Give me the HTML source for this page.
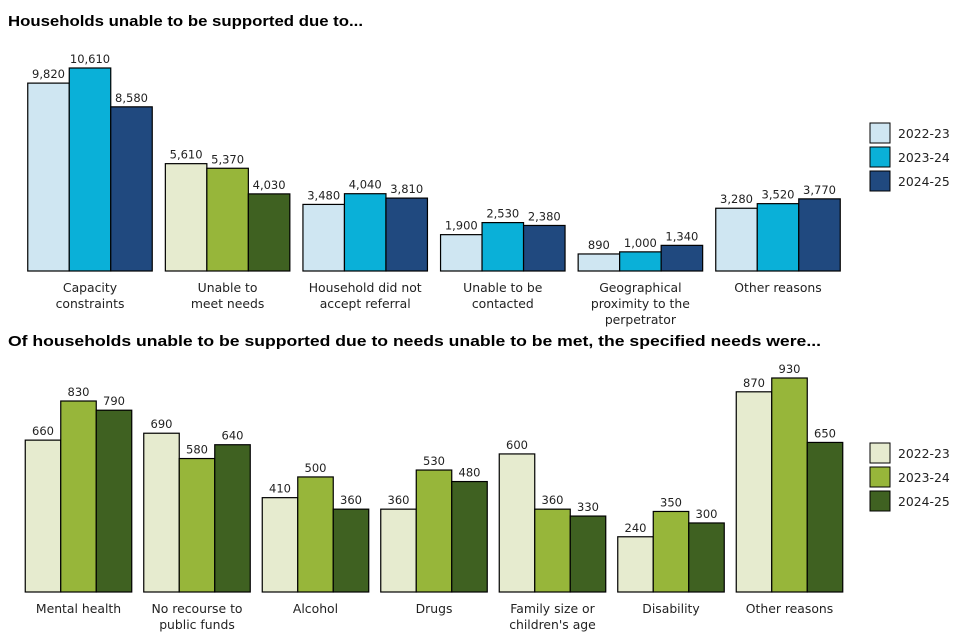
<!DOCTYPE html>
<html><head><meta charset="utf-8"><style>
body{margin:0;background:#fff;font-family:"DejaVu Sans",sans-serif}
svg text{font-family:"DejaVu Sans",sans-serif}
</style></head><body>
<svg id="c" width="960" height="640" xmlns="http://www.w3.org/2000/svg">
<text x="8" y="26" font-size="15" font-weight="bold" textLength="355" lengthAdjust="spacingAndGlyphs" style="font-family:'Liberation Sans',sans-serif">Households unable to be supported due to...</text>
<text x="8" y="346" font-size="15" font-weight="bold" textLength="813" lengthAdjust="spacingAndGlyphs" style="font-family:'Liberation Sans',sans-serif">Of households unable to be supported due to needs unable to be met, the specified needs were...</text>
</svg>
<script>
const years=["2022-23","2023-24","2024-25"];
const topCats=[["Capacity","constraints"],["Unable to","meet needs"],["Household did not","accept referral"],["Unable to be","contacted"],["Geographical","proximity to the","perpetrator"],["Other reasons"]];
const top2223=[9820,5610,3480,1900,890,3280];
const top2324=[10610,5370,4040,2530,1000,3520];
const top2425=[8580,4030,3810,2380,1340,3770];
const botCats=[["Mental health"],["No recourse to","public funds"],["Alcohol"],["Drugs"],["Family size or","children's age"],["Disability"],["Other reasons"]];
const bot2223=[660,690,410,360,600,240,870];
const bot2324=[830,580,500,530,360,350,930];
const bot2425=[790,640,360,480,330,300,650];

const svg=document.getElementById('c');
const NS="http://www.w3.org/2000/svg";
const blue=["#cfe6f2","#0ab0d8","#20497f"], green=["#e6ebcf","#97b63a","#3f6121"];
function mk(t,a){const e=document.createElementNS(NS,t);for(const k in a)e.setAttribute(k,a[k]);svg.appendChild(e);return e;}
function fmt(v){return v.toLocaleString('en-US');}
function chart(cats,series,o){
  const y=v=>o.base-v*o.scale;
  cats.forEach((c,i)=>{
    const cx=o.x0+i*o.step;
    const cols=o.colsFor(i);
    series.forEach((s,j)=>{
      const x=cx-1.5*o.bw+j*o.bw;
      const r=mk('rect',{x:x,y:y(s[i]),width:o.bw,height:o.base-y(s[i]),fill:cols[j],stroke:"#000","stroke-width":1.2});
      
      
      const t=mk('text',{x:x+o.bw/2,y:y(s[i])-5,"font-size":11.5,"text-anchor":"middle",fill:"#222"});
      t.textContent=fmt(s[i]);
      
      
    });
    c.forEach((ln,k)=>{
      const t=mk('text',{x:cx,y:o.base+21+k*16,"font-size":12.4,"text-anchor":"middle",fill:"#222"});
      t.textContent=ln;
      
      
    });
  });
  years.forEach((yr,j)=>{
    const r=mk('rect',{x:870,y:o.ly+j*24,width:20,height:20,fill:o.legCols[j],stroke:"#000","stroke-width":1});
    
    
    const t=mk('text',{x:898,y:o.ly+j*24+15,"font-size":12.4,fill:"#222"});
    t.textContent=yr;
    
    
  });
}
chart(topCats,[top2223,top2324,top2425],{prefix:"top",base:271,scale:203/10610,x0:90,step:137.6,bw:41.5,colsFor:i=>i===1?green:blue,legCols:blue,ly:123});
chart(botCats,[bot2223,bot2324,bot2425],{prefix:"bottom",base:592,scale:214/930,x0:78.5,step:118.5,bw:35.5,colsFor:i=>green,legCols:green,ly:443});
</script>
</body></html>
